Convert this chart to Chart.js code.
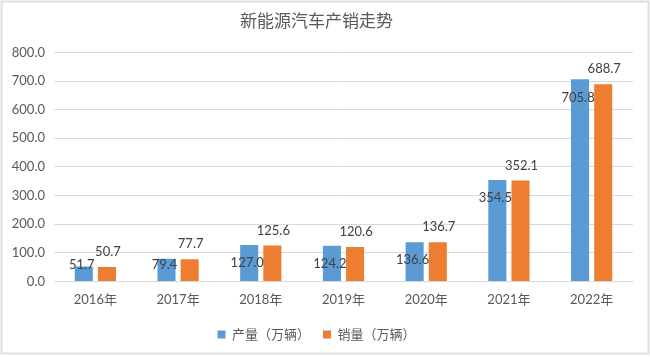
<!DOCTYPE html>
<html>
<head>
<meta charset="utf-8">
<script src="https://cdn.jsdelivr.net/npm/chart.js@4.4.0/dist/chart.umd.min.js"></script>
<style>
html,body{margin:0;padding:0;background:#fff;}
#wrap{width:650px;height:357px;position:relative;}
</style>
</head>
<body>
<div id="wrap"><canvas id="c" width="650" height="357"></canvas></div>
<script>
const categories = ['2016年','2017年','2018年','2019年','2020年','2021年','2022年'];
const production = [51.7, 79.4, 127.0, 124.2, 136.6, 354.5, 705.8];
const sales = [50.7, 77.7, 125.6, 120.6, 136.7, 352.1, 688.7];
const seriesNames = ['产量（万辆）','销量（万辆）'];
const titleText = '新能源汽车产销走势';

const FONT = "Lato, 'Noto Sans CJK SC', sans-serif";

const framePlugin = {
  id: 'frame',
  beforeDraw(chart) {
    const ctx = chart.ctx;
    ctx.save();
    ctx.fillStyle = '#fff';
    ctx.fillRect(0, 0, chart.width, chart.height);
    ctx.strokeStyle = '#e0e0e0';
    ctx.lineWidth = 2;
    ctx.strokeRect(1.5, 1.5, chart.width - 3, chart.height - 5);
    ctx.restore();
  }
};

const labelPlugin = {
  id: 'barLabels',
  afterDatasetsDraw(chart) {
    const ctx = chart.ctx;
    ctx.save();
    ctx.font = "13px " + FONT;
    ctx.fillStyle = '#404040';
    ctx.textAlign = 'center';
    ctx.textBaseline = 'middle';
    const yBase = chart.scales.y.getPixelForValue(0);
    chart.getDatasetMeta(0).data.forEach((bar, i) => {
      const y = Math.min(bar.y + 18, yBase - 17);
      ctx.fillText(production[i].toFixed(1), bar.x - 2, y);
    });
    chart.getDatasetMeta(1).data.forEach((bar, i) => {
      ctx.fillText(sales[i].toFixed(1), bar.x + 1, bar.y - 15);
    });
    ctx.restore();
  }
};

new Chart(document.getElementById('c'), {
  type: 'bar',
  data: {
    labels: categories,
    datasets: [
      { label: seriesNames[0], data: production, backgroundColor: '#5B9BD5', categoryPercentage: 0.56, barPercentage: 0.78 },
      { label: seriesNames[1], data: sales, backgroundColor: '#ED7D31', categoryPercentage: 0.56, barPercentage: 0.78 }
    ]
  },
  options: {
    responsive: false,
    animation: false,
    devicePixelRatio: 1,
    layout: { padding: { left: 0, right: 17, top: 0, bottom: 6 } },
    plugins: {
      title: {
        display: true,
        text: titleText,
        color: '#595959',
        font: { family: "'Noto Sans CJK SC', sans-serif", size: 17, weight: 'normal' },
        padding: { top: 10, bottom: 22 }
      },
      legend: {
        position: 'bottom',
        labels: {
          boxWidth: 8, boxHeight: 8, color: '#595959',
          font: { family: FONT, size: 13 },
          padding: 13
        }
      },
      tooltip: { enabled: false }
    },
    scales: {
      x: {
        afterFit(s) { s.height += 4; },
        grid: { display: false },
        border: { display: true, color: '#d9d9d9' },
        ticks: { color: '#595959', font: { family: FONT, size: 13 }, padding: 3 }
      },
      y: {
        min: 0, max: 800,
        afterFit(s) { s.width = 54; },
        grid: { color: '#d9d9d9', drawTicks: false },
        border: { display: false },
        ticks: {
          stepSize: 100, color: '#595959', padding: 9,
          font: { family: FONT, size: 13 },
          callback: v => Number(v).toFixed(1)
        }
      }
    }
  },
  plugins: [framePlugin, labelPlugin]
});
</script>
</body>
</html>
